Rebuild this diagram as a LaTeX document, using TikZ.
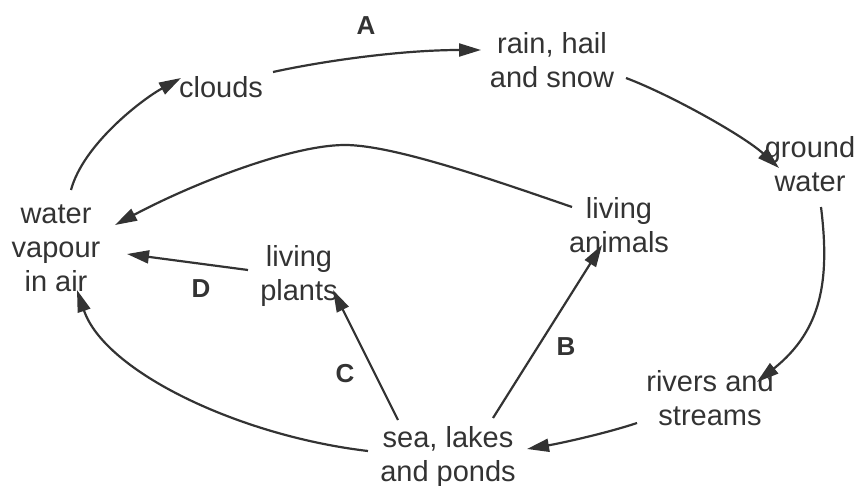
\documentclass[tikz,border=0pt]{standalone}
\usepackage{fontspec}
\setmainfont{Liberation Sans}
\usetikzlibrary{arrows.meta}
\definecolor{ink}{HTML}{333333}
\tikzset{
  lbl/.style={anchor=north, align=center, inner sep=0pt, text=ink,
    font=\fontsize{29}{34}\selectfont},
  letter/.style={inner sep=0pt, text=ink, font=\fontsize{26}{30}\selectfont\bfseries},
  arr/.style={draw=ink, line width=2.2pt,
    -{Triangle[length=22pt, width=13pt]}},
}
\begin{document}
\begin{tikzpicture}[x=1pt, y=-1pt]
\useasboundingbox (0,0) rectangle (858,486);
% concepts
\node[lbl] (wv) at (56,205) {water\\vapour\\in air};
\node[lbl] (clouds) at (221,76) {clouds};
\node[lbl] (rain) at (552,32) {rain, hail\\and snow};
\node[lbl] (gw) at (810,136) {ground\\water};
\node[lbl] (la) at (619,197) {living\\animals};
\node[lbl] (lp) at (299,245) {living\\plants};
\node[lbl] (rs) at (710,370) {rivers and\\streams};
\node[lbl] (sea) at (448,426) {sea, lakes\\and ponds};
% letters
\node[letter] (A) at (366,26) {A};
\node[letter] (B) at (566,347) {B};
\node[letter] (C) at (345,374) {C};
\node[letter] (D) at (201,289) {D};
% connectors
\draw[arr] ([shift={(15,-15)}]wv.north) .. controls +(12,-45) and +(-40,22) .. ([shift={(-40,2)}]clouds.north);
\draw[arr] ([shift={(52,-4)}]clouds.north) .. controls +(50,-11) and +(-80,0) .. ([shift={(-71,18)}]rain.north);
\draw[arr] ([shift={(74,46)}]rain.north) .. controls +(45,17) and +(-35,-32) .. ([shift={(-31,32)}]gw.north);
\draw[arr] ([shift={(11,71)}]gw.north) .. controls +(9,73) and +(65,-52) .. ([shift={(47,12)}]rs.north);
\draw[arr] ([shift={(-73,53)}]rs.north) .. controls +(-30,10) and +(35,-6) .. ([shift={(79,23)}]sea.north);
\draw[arr] ([shift={(45,-8)}]sea.north) -- ([shift={(-17,48)}]la.north);
\draw[arr] ([shift={(-50,-6)}]sea.north) -- ([shift={(34,45)}]lp.north);
\draw[arr] ([shift={(-80,25)}]sea.north) .. controls +(-128,-15) and +(28,82) .. ([shift={(21,85)}]wv.north);
\draw[arr] ([shift={(-51,25)}]lp.north) -- ([shift={(71,49)}]wv.north);
\draw[arr] ([shift={(-47,10)}]la.north) .. controls +(-70,-24) and +(50,0) .. (345,145)
  .. controls +(-55,0) and +(75,-40) .. ([shift={(59,20)}]wv.north);
\end{tikzpicture}
\end{document}
